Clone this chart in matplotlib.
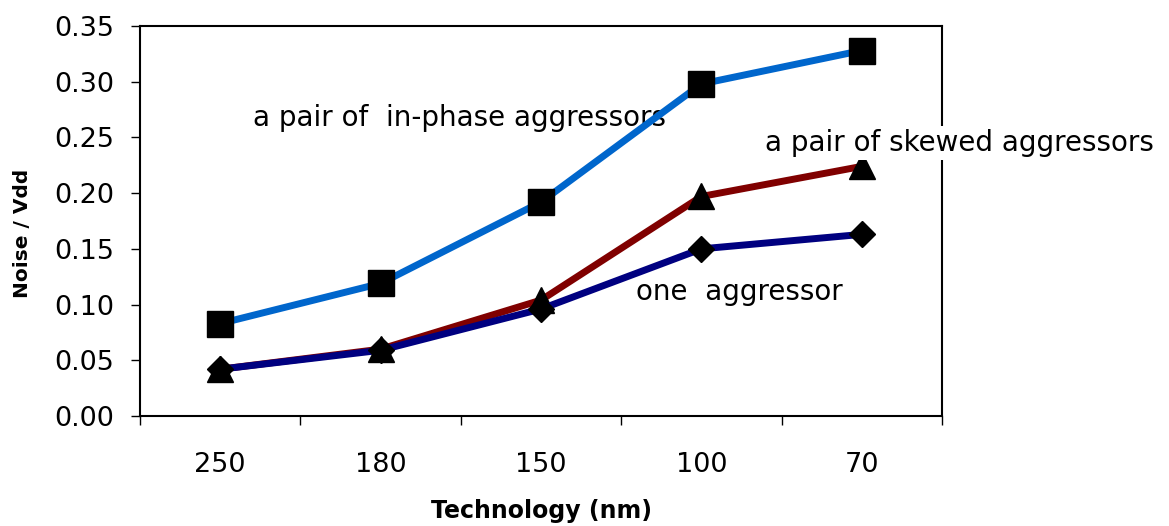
import matplotlib
matplotlib.use("Agg")
import matplotlib.pyplot as plt
from matplotlib.ticker import FixedLocator, FormatStrFormatter

plt.rcParams['font.family'] = ['DejaVu Sans']

# ── Data ─────────────────────────────────────────────
technology = ['250', '180', '150', '100', '70']
in_phase   = [0.083, 0.119, 0.192, 0.298, 0.328]
skewed     = [0.042, 0.060, 0.104, 0.197, 0.224]
one_aggr   = [0.042, 0.059, 0.096, 0.150, 0.163]

fig = plt.figure(figsize=(11.69, 5.26), dpi=100)
ax = fig.add_axes([0.1198, 0.2091, 0.6860, 0.7415])

x = list(range(len(technology)))
ax.plot(x, in_phase, color='#0066CC', lw=5, marker='s', ms=18.5,
        mfc='black', mec='black', zorder=3)
ax.plot(x, skewed, color='#800000', lw=5, marker='^', ms=18.5,
        mfc='black', mec='black', zorder=3)
ax.plot(x, one_aggr, color='#000080', lw=5, marker='D', ms=13,
        mfc='black', mec='black', zorder=4)

ax.set_xlim(-0.5, len(technology) - 0.5)
ax.set_ylim(0, 0.35)
ax.set_yticks([0.0, 0.05, 0.10, 0.15, 0.20, 0.25, 0.30, 0.35])
ax.yaxis.set_major_formatter(FormatStrFormatter('%.2f'))

# category boundaries get tick marks, centres get the labels
ax.xaxis.set_major_locator(FixedLocator([i - 0.5 for i in range(len(technology) + 1)]))
ax.xaxis.set_minor_locator(FixedLocator(x))
ax.set_xticklabels([''] * (len(technology) + 1))
ax.set_xticklabels(technology, minor=True)

ax.tick_params(axis='x', which='major', direction='out', length=6.5, width=1)
ax.tick_params(axis='x', which='minor', length=0, pad=26, labelsize=19.5)
ax.tick_params(axis='y', direction='out', length=6.5, width=1, pad=12, labelsize=19.5)

for s in ax.spines.values():
    s.set_linewidth(1.5)

ax.set_xlabel('Technology (nm)', fontsize=17, fontweight='bold', va='baseline')
ax.xaxis.set_label_coords(0.5, -0.262)
ax.set_ylabel('Noise / Vdd', fontsize=14.5, fontweight='bold', va='center')
ax.yaxis.set_label_coords(-0.147, 0.469)

ax.text(0.205, 0.2675, 'a pair of  in-phase aggressors', fontsize=20,
        va='center', ha='left', zorder=2)
ax.text(3.396, 0.245, 'a pair of skewed aggressors', fontsize=20,
        va='center', ha='left', clip_on=False, zorder=5,
        bbox=dict(facecolor='white', edgecolor='none', pad=2))
ax.text(2.592, 0.111, 'one  aggressor', fontsize=20,
        va='center', ha='left', zorder=2)

fig.savefig('out.png', dpi=100)
